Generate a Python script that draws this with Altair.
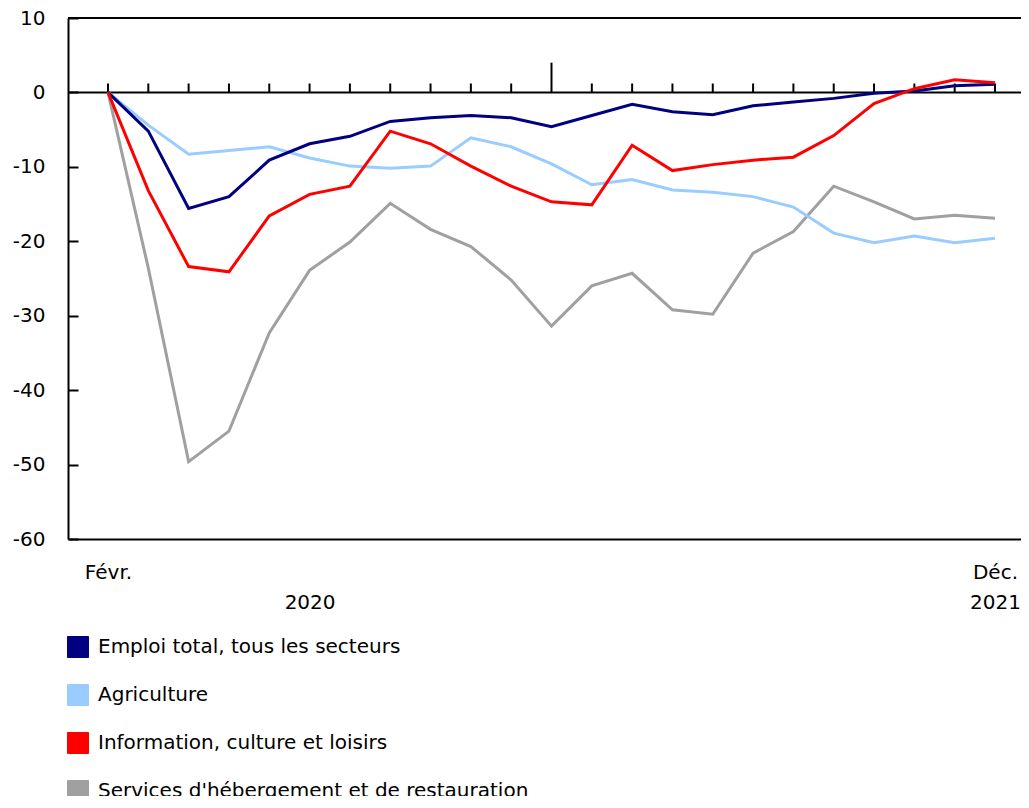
import altair as alt
import pandas as pd

months = ["2020-02", "2020-03", "2020-04", "2020-05", "2020-06", "2020-07", "2020-08",
          "2020-09", "2020-10", "2020-11", "2020-12", "2021-01", "2021-02", "2021-03",
          "2021-04", "2021-05", "2021-06", "2021-07", "2021-08", "2021-09", "2021-10",
          "2021-11", "2021-12"]

series_names = ["Emploi total, tous les secteurs", "Agriculture",
                "Information, culture et loisirs",
                "Services d'hébergement et de restauration"]
series_colors = ["#000080", "#99CCFF", "#FF0000", "#A0A0A0"]

emploi = [0, -5.2, -15.6, -14.0, -9.1, -6.9, -5.9, -3.9, -3.4, -3.1, -3.4, -4.6,
          -3.1, -1.6, -2.6, -3.0, -1.8, -1.3, -0.8, -0.1, 0.2, 0.9, 1.1]
agriculture = [0, -4.4, -8.3, -7.8, -7.3, -8.8, -9.9, -10.2, -9.9, -6.1, -7.3, -9.6,
               -12.4, -11.7, -13.1, -13.4, -14.0, -15.4, -18.9, -20.2, -19.3, -20.2, -19.6]
information = [0, -13.2, -23.4, -24.1, -16.6, -13.7, -12.6, -5.2, -6.9, -9.9, -12.6, -14.7,
               -15.1, -7.1, -10.5, -9.7, -9.1, -8.7, -5.8, -1.5, 0.5, 1.7, 1.3]
services = [0, -23.6, -49.6, -45.5, -32.3, -23.9, -20.1, -14.9, -18.4, -20.7, -25.2, -31.4,
            -26.0, -24.3, -29.2, -29.8, -21.6, -18.7, -12.6, -14.7, -17.0, -16.5, -16.9]

y_ticks = [-60, -50, -40, -30, -20, -10, 0, 10]

all_values = [emploi, agriculture, information, services]
rows = []
for name, vals in zip(series_names, all_values):
    for i, (m, v) in enumerate(zip(months, vals)):
        rows.append({"idx": i, "month": m, "series": name, "value": v})
df = pd.DataFrame(rows)

tick_df = pd.DataFrame({
    "idx": list(range(len(months))),
    "y0": [0] * len(months),
    "y1": [4.0 if m.endswith("-01") else 1.2 for m in months],
})

FONT = "DejaVu Sans"

x_scale = alt.Scale(domain=[-0.992, 22.645], nice=False, zero=False)
y_scale = alt.Scale(domain=[-60, 10], nice=False, zero=False)
color_scale = alt.Scale(domain=series_names, range=series_colors)

x_enc = alt.X("idx:Q", scale=x_scale, title=None,
              axis=alt.Axis(values=[0, 5, 22], ticks=False, domain=True,
                            labelExpr="datum.value == 0 ? 'Févr.' : (datum.value == 5 ? ['', '2020'] : ['Déc.', '2021'])",
                            labelPadding=23, labelLineHeight=30, labelOverlap=False,
                            labelFlush=False, labelBound=False, grid=False))
y_enc = alt.Y("value:Q", scale=y_scale, title=None,
              axis=alt.Axis(values=y_ticks, tickSize={"expr": "-10"}, labelPadding=33,
                            labelExpr="'' + datum.value",
                            grid=False, domain=True))

base = alt.Chart(df)

draw_order = [series_names[3], series_names[1], series_names[0], series_names[2]]
line_layers = []
for name in draw_order:
    line_layers.append(
        base.transform_filter(alt.datum.series == name)
        .mark_line(strokeWidth=3, strokeCap="butt")
        .encode(x=x_enc, y=y_enc,
                stroke=alt.Stroke("series:N", scale=color_scale, legend=None))
    )

legend_layer = base.mark_square(size=0, filled=True, stroke="black", strokeWidth=1).encode(
    x=alt.X("idx:Q", scale=x_scale),
    y=alt.Y("value:Q", scale=y_scale),
    fill=alt.Fill("series:N", scale=color_scale,
                  legend=alt.Legend(orient="none", legendX=-1, legendY=618,
                                    direction="vertical", title=None,
                                    symbolType="square", symbolSize=441,
                                    symbolStrokeColor="black", symbolStrokeWidth=1,
                                    symbolOpacity=1, labelFont=FONT, labelFontSize=20,
                                    labelColor="black", labelOffset=9, rowPadding=22,
                                    padding=0, labelLimit=800)),
)

frame_top = alt.Chart(pd.DataFrame({"y": [10]})).mark_rule(color="black", strokeWidth=2).encode(
    y=alt.Y("y:Q", scale=y_scale))
zero_line = alt.Chart(pd.DataFrame({"y": [0]})).mark_rule(color="black", strokeWidth=2).encode(
    y=alt.Y("y:Q", scale=y_scale))
ticks = alt.Chart(tick_df).mark_rule(color="black", strokeWidth=2).encode(
    x=alt.X("idx:Q", scale=x_scale),
    y=alt.Y("y0:Q", scale=y_scale),
    y2="y1:Q",
)

chart = alt.layer(legend_layer, frame_top, zero_line, ticks, *line_layers).properties(
    width=953, height=521,
    autosize=alt.AutoSizeParams(type="none"),
    padding={"left": 60, "top": 10, "right": 0, "bottom": 257},
).configure_view(stroke=None).configure_axis(
    labelFont=FONT, labelFontSize=20, labelColor="black",
    domainColor="black", domainWidth=2, tickColor="black", tickWidth=2,
)

chart.save("out.html", embed_options={"renderer": "svg", "actions": False})
